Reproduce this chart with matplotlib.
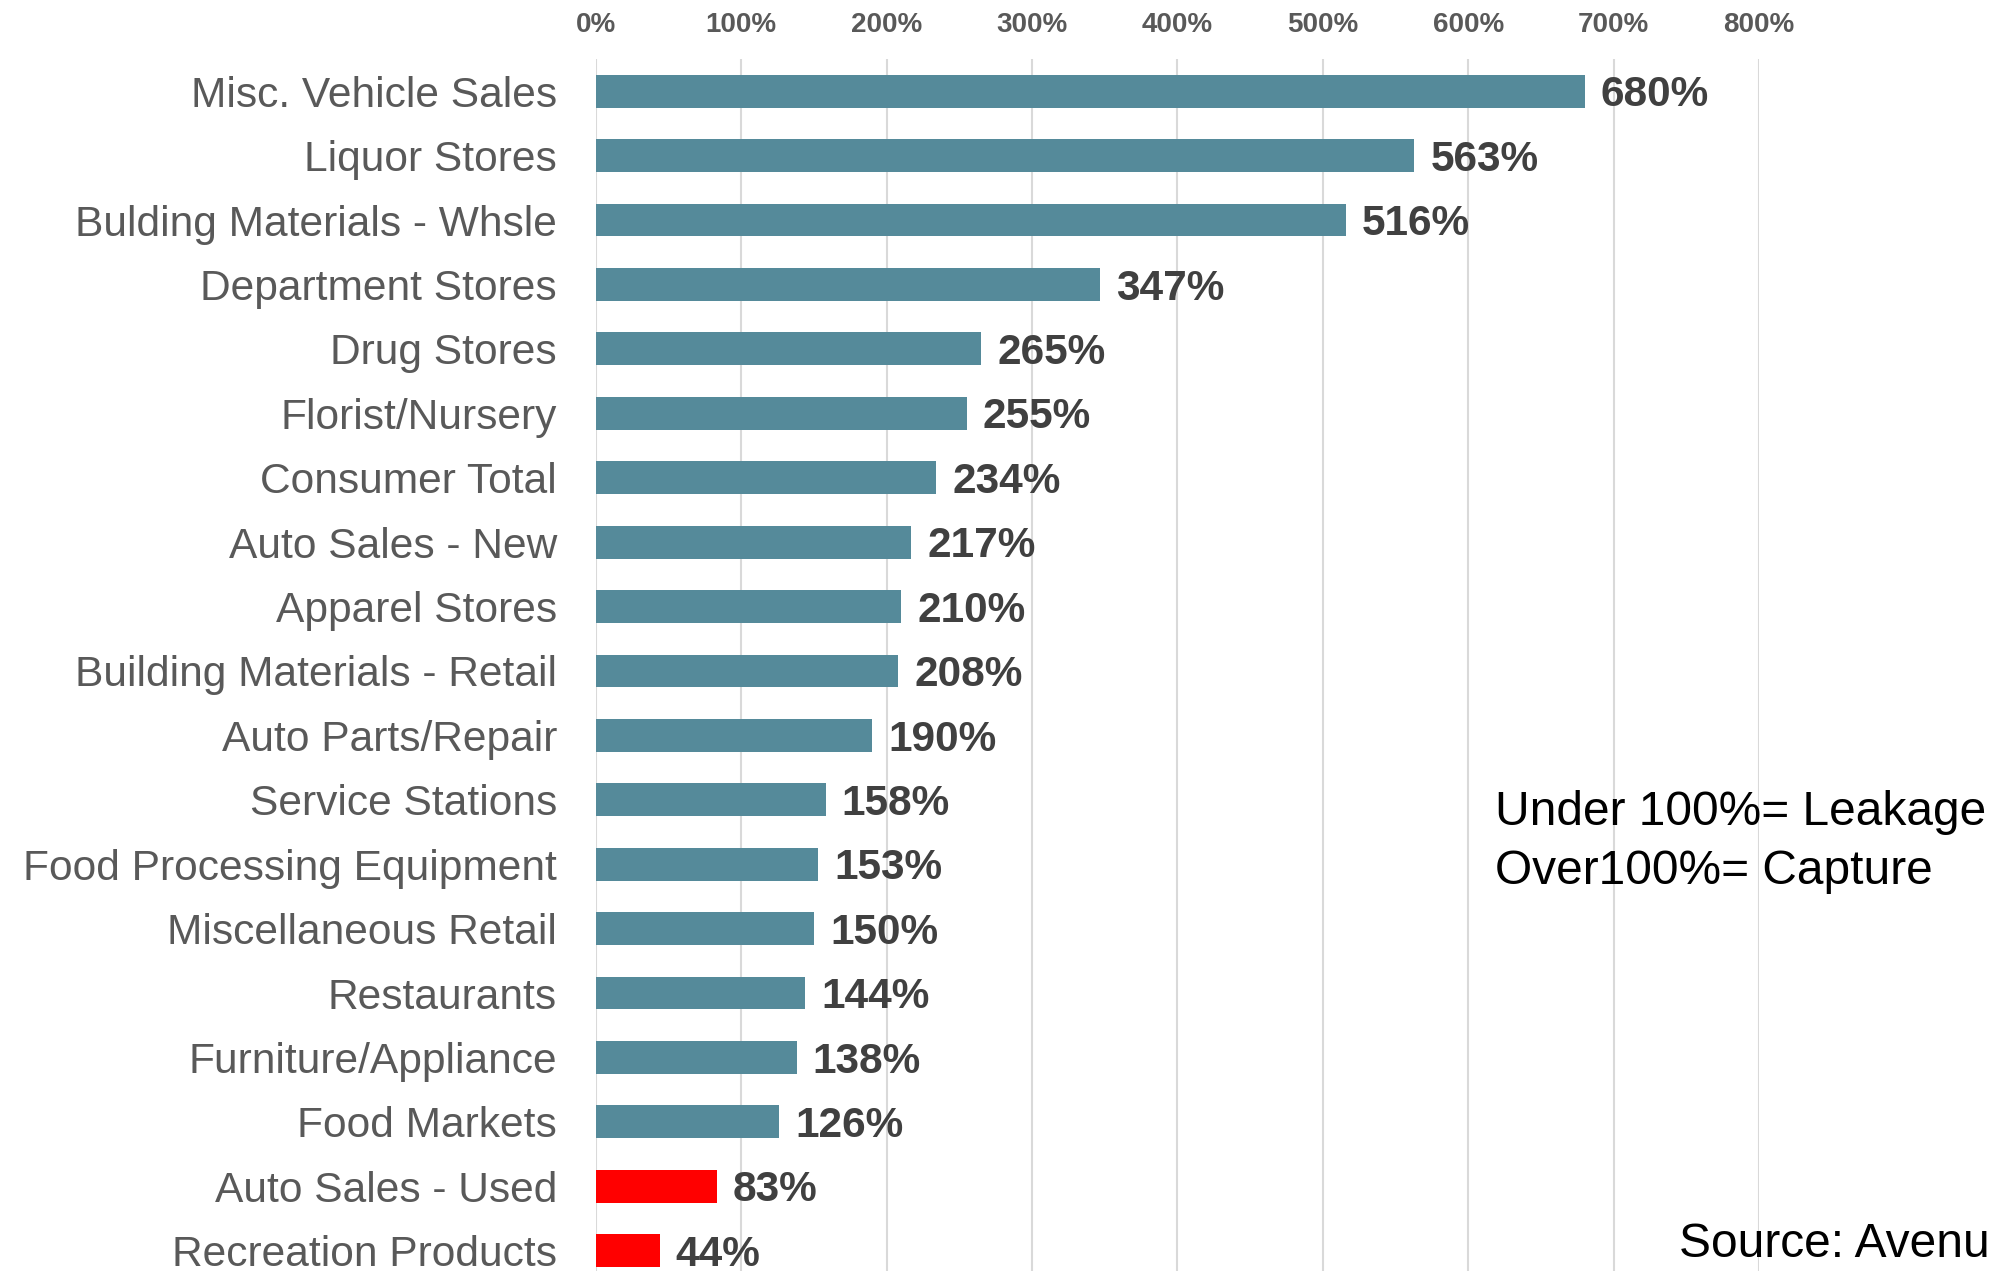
import matplotlib
matplotlib.use("Agg")
import matplotlib.pyplot as plt
from matplotlib import font_manager

categories = ["Misc. Vehicle Sales", "Liquor Stores", "Bulding Materials - Whsle",
              "Department Stores", "Drug Stores", "Florist/Nursery", "Consumer Total",
              "Auto Sales - New", "Apparel Stores", "Building Materials - Retail",
              "Auto Parts/Repair", "Service Stations", "Food Processing Equipment",
              "Miscellaneous Retail", "Restaurants", "Furniture/Appliance", "Food Markets",
              "Auto Sales - Used", "Recreation Products"]
values = [680, 563, 516, 347, 265, 255, 234, 217, 210, 208, 190, 158, 153, 150, 144, 138, 126, 83, 44]
tick_values = [0, 100, 200, 300, 400, 500, 600, 700, 800]
tick_labels = ["0%", "100%", "200%", "300%", "400%", "500%", "600%", "700%", "800%"]

names = {f.name for f in font_manager.fontManager.ttflist}
narrow = "Liberation Sans Narrow" if "Liberation Sans Narrow" in names else "Liberation Sans"
plt.rcParams['font.family'] = ['Liberation Sans', 'DejaVu Sans']

teal = "#558A9A"
red = "#FF0000"
colors = [red if v < 100 else teal for v in values]

fig = plt.figure(figsize=(19.91, 12.71), dpi=100)
ax = fig.add_axes([0.2993, -0.0094, 0.5842, 0.963])
y = list(range(len(categories)))
ax.barh(y, values, height=0.51, color=colors, zorder=3)
ax.set_ylim(len(categories) - 0.5, -0.5)
ax.set_xlim(0, 800)

ax.set_yticks(y)
ax.set_yticklabels(categories, fontsize=30.6, color="#595959")
ax.tick_params(axis='y', length=0, pad=28)

ax.xaxis.tick_top()
ax.set_xticks(tick_values)
ax.set_xticklabels(tick_labels, fontsize=23 if narrow != "Liberation Sans" else 20,
                   fontweight='bold', color="#595959", family=narrow)
ax.tick_params(axis='x', length=0, pad=15)
ax.grid(axis='x', color="#d9d9d9", linewidth=1.5, zorder=0)
for s in ax.spines.values():
    s.set_visible(False)

for yi, v in zip(y, values):
    ax.annotate(f"{v}%", xy=(v, yi), xytext=(11.5, -3), textcoords='offset points',
                ha='left', va='center', fontsize=30.5, fontweight='bold', color="#404040")

fig.text(0.751, 0.3375, "Under 100%= Leakage\nOver100%= Capture", fontsize=34.5,
         color="black", ha='left', va='center', linespacing=1.38)
fig.text(0.8433, 0.0205, "Source: Avenu", fontsize=34.5,
         color="black", ha='left', va='center')

fig.savefig("out.png", dpi=100)
